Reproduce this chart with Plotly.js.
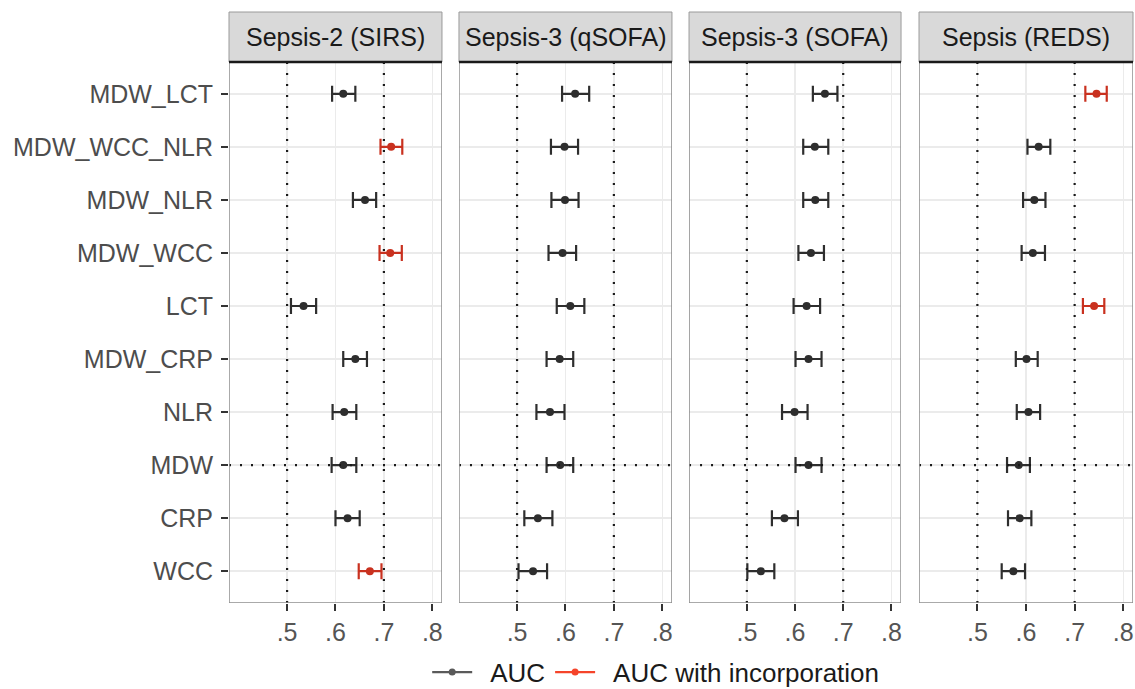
<!DOCTYPE html>
<html>
<head>
<meta charset="utf-8">
<script src="https://cdn.plot.ly/plotly-3.0.1.min.js"></script>
<style>html,body{margin:0;padding:0;background:#fff;}#chart{width:1135px;height:689px;}</style>
</head>
<body>
<div id="chart"></div>
<script>
// Categories listed bottom to top
const categories = ["WCC","CRP","MDW","NLR","MDW_CRP","LCT","MDW_WCC","MDW_NLR","MDW_WCC_NLR","MDW_LCT"];
const panelTitles = ["Sepsis-2 (SIRS)","Sepsis-3 (qSOFA)","Sepsis-3 (SOFA)","Sepsis (REDS)"];
const tickValues = [0.5,0.6,0.7,0.8];
const tickLabels = [".5",".6",".7",".8"];
const seriesNames = ["AUC","AUC with incorporation"];

const sirsAUC = [0.671,0.625,0.616,0.618,0.641,0.534,0.713,0.661,0.715,0.616];
const sirsLo  = [0.648,0.600,0.592,0.594,0.616,0.508,0.691,0.636,0.693,0.593];
const sirsHi  = [0.695,0.650,0.643,0.643,0.665,0.560,0.737,0.684,0.738,0.641];
const sirsInc = [1,0,0,0,0,0,1,0,1,0];

const qsofaAUC = [0.533,0.543,0.589,0.568,0.588,0.610,0.594,0.599,0.598,0.620];
const qsofaLo  = [0.503,0.515,0.561,0.540,0.561,0.582,0.565,0.571,0.570,0.593];
const qsofaHi  = [0.562,0.573,0.616,0.598,0.616,0.639,0.622,0.627,0.626,0.649];
const qsofaInc = [0,0,0,0,0,0,0,0,0,0];

const sofaAUC = [0.529,0.578,0.628,0.599,0.628,0.624,0.633,0.642,0.641,0.662];
const sofaLo  = [0.501,0.552,0.601,0.573,0.601,0.597,0.607,0.617,0.617,0.637];
const sofaHi  = [0.557,0.606,0.655,0.626,0.655,0.652,0.660,0.669,0.669,0.688];
const sofaInc = [0,0,0,0,0,0,0,0,0,0];

const redsAUC = [0.574,0.587,0.585,0.605,0.601,0.740,0.614,0.617,0.626,0.745];
const redsLo  = [0.550,0.563,0.561,0.581,0.579,0.717,0.591,0.594,0.603,0.722];
const redsHi  = [0.598,0.611,0.608,0.629,0.624,0.761,0.639,0.640,0.650,0.766];
const redsInc = [0,0,0,0,0,1,0,0,0,1];

const panels = [
  {auc:sirsAUC, lo:sirsLo, hi:sirsHi, inc:sirsInc},
  {auc:qsofaAUC, lo:qsofaLo, hi:qsofaHi, inc:qsofaInc},
  {auc:sofaAUC, lo:sofaLo, hi:sofaHi, inc:sofaInc},
  {auc:redsAUC, lo:redsLo, hi:redsHi, inc:redsInc}
];

const markColors = ["#2e2e2e","#c9311f"];
const legendColors = ["#5a5a5a","#f5442a"];
const domains = [[0,0.2356],[0.2544,0.4900],[0.5089,0.7434],[0.7633,1.0]];
const yTop = 541/591;

const traces = [];
panels.forEach((p,i)=>{
  const xa = i===0 ? "x" : "x"+(i+1);
  const ya = i===0 ? "y" : "y"+(i+1);
  [0,1].forEach(g=>{
    const xs=[], ys=[], ep=[], em=[];
    categories.forEach((c,k)=>{
      if (p.inc[k]===g){
        xs.push(p.auc[k]); ys.push(c);
        ep.push(p.hi[k]-p.auc[k]); em.push(p.auc[k]-p.lo[k]);
      }
    });
    if (!xs.length) return;
    traces.push({
      type:"scatter", mode:"markers", x:xs, y:ys, xaxis:xa, yaxis:ya,
      showlegend:false, hoverinfo:"x+y",
      marker:{color:markColors[g], size:8},
      error_x:{type:"data", symmetric:false, array:ep, arrayminus:em,
               color:markColors[g], thickness:2.2, width:8}
    });
  });
});
// legend entries
[0,1].forEach(g=>{
  traces.push({type:"scatter", mode:"lines+markers", x:[null], y:[null],
    name:"  "+seriesNames[g], showlegend:true,
    line:{color:legendColors[g], width:2.2}, marker:{color:legendColors[g], size:7}});
});

const fam = "Liberation Sans, Arial, Helvetica, sans-serif";
const layout = {
  width:1135, height:689,
  margin:{l:229, r:2, t:12, b:86, autoexpand:false},
  paper_bgcolor:"#ffffff", plot_bgcolor:"#ffffff",
  font:{family:fam, size:25, color:"#4d4d4d"},
  showlegend:true,
  legend:{orientation:"h", x:0.472, xanchor:"center", y:-0.117, yanchor:"middle",
          font:{family:fam, size:26, color:"#1a1a1a"}, itemwidth:40,
          bgcolor:"rgba(0,0,0,0)"},
  shapes:[], annotations:[]
};

domains.forEach((d,i)=>{
  const n = i===0 ? "" : String(i+1);
  layout["xaxis"+n] = {
    domain:d, anchor:"y"+n, range:[0.38,0.82], tickvals:tickValues, ticktext:tickLabels,
    ticks:"outside", ticklen:7, tickwidth:2, tickcolor:"#333333",
    showgrid:true, gridcolor:"#ebebeb", gridwidth:1.5, zeroline:false, showline:false,
    tickfont:{family:fam, size:25, color:"#555555"}, fixedrange:true
  };
  layout["yaxis"+n] = {
    domain:[0,yTop], anchor:"x"+n, type:"category", categoryorder:"array", categoryarray:categories,
    range:[-0.6,9.6], showgrid:true, gridcolor:"#ebebeb", gridwidth:1.5, zeroline:false, showline:false,
    showticklabels:i===0, ticks:i===0?"outside":"", ticklen:7, tickwidth:2, tickcolor:"#333333",
    ticklabelstandoff:3,
    tickfont:{family:fam, size:25, color:"#4d4d4d"}, fixedrange:true
  };
  if (i>0) layout["yaxis"+n].matches = "y";
  const xr = "x"+n, yr = "y"+n;
  // reference dotted lines
  [0.5,0.7].forEach(v=>{
    layout.shapes.push({type:"line", layer:"above", xref:xr, yref:yr,
      x0:v, x1:v, y0:-0.6, y1:9.6, line:{color:"#1a1a1a", width:2.2, dash:"2px,9px"}});
  });
  layout.shapes.push({type:"line", layer:"above", xref:xr, yref:yr,
      x0:0.38, x1:0.82, y0:2, y1:2, line:{color:"#1a1a1a", width:2.2, dash:"2px,9px"}});
  // panel border
  layout.shapes.push({type:"rect", layer:"above", xref:xr, yref:yr,
      x0:0.38, x1:0.82, y0:-0.6, y1:9.6, line:{color:"#8f8f8f", width:1.5}, fillcolor:"rgba(0,0,0,0)"});
  // strip
  layout.shapes.push({type:"rect", xref:"paper", yref:"paper",
      x0:d[0], x1:d[1], y0:yTop, y1:1, line:{color:"#9a9a9a", width:1}, fillcolor:"#d9d9d9"});
  layout.shapes.push({type:"line", xref:"paper", yref:"paper",
      x0:d[0], x1:d[1], y0:yTop, y1:yTop, line:{color:"#1a1a1a", width:2.5}});
  layout.annotations.push({xref:"paper", yref:"paper", x:(d[0]+d[1])/2, y:(yTop+1)/2,
      xanchor:"center", yanchor:"middle", showarrow:false, text:panelTitles[i],
      font:{family:fam, size:25, color:"#1a1a1a"}});
});

Plotly.newPlot("chart", traces, layout, {displayModeBar:false, staticPlot:true});
</script>
</body>
</html>
